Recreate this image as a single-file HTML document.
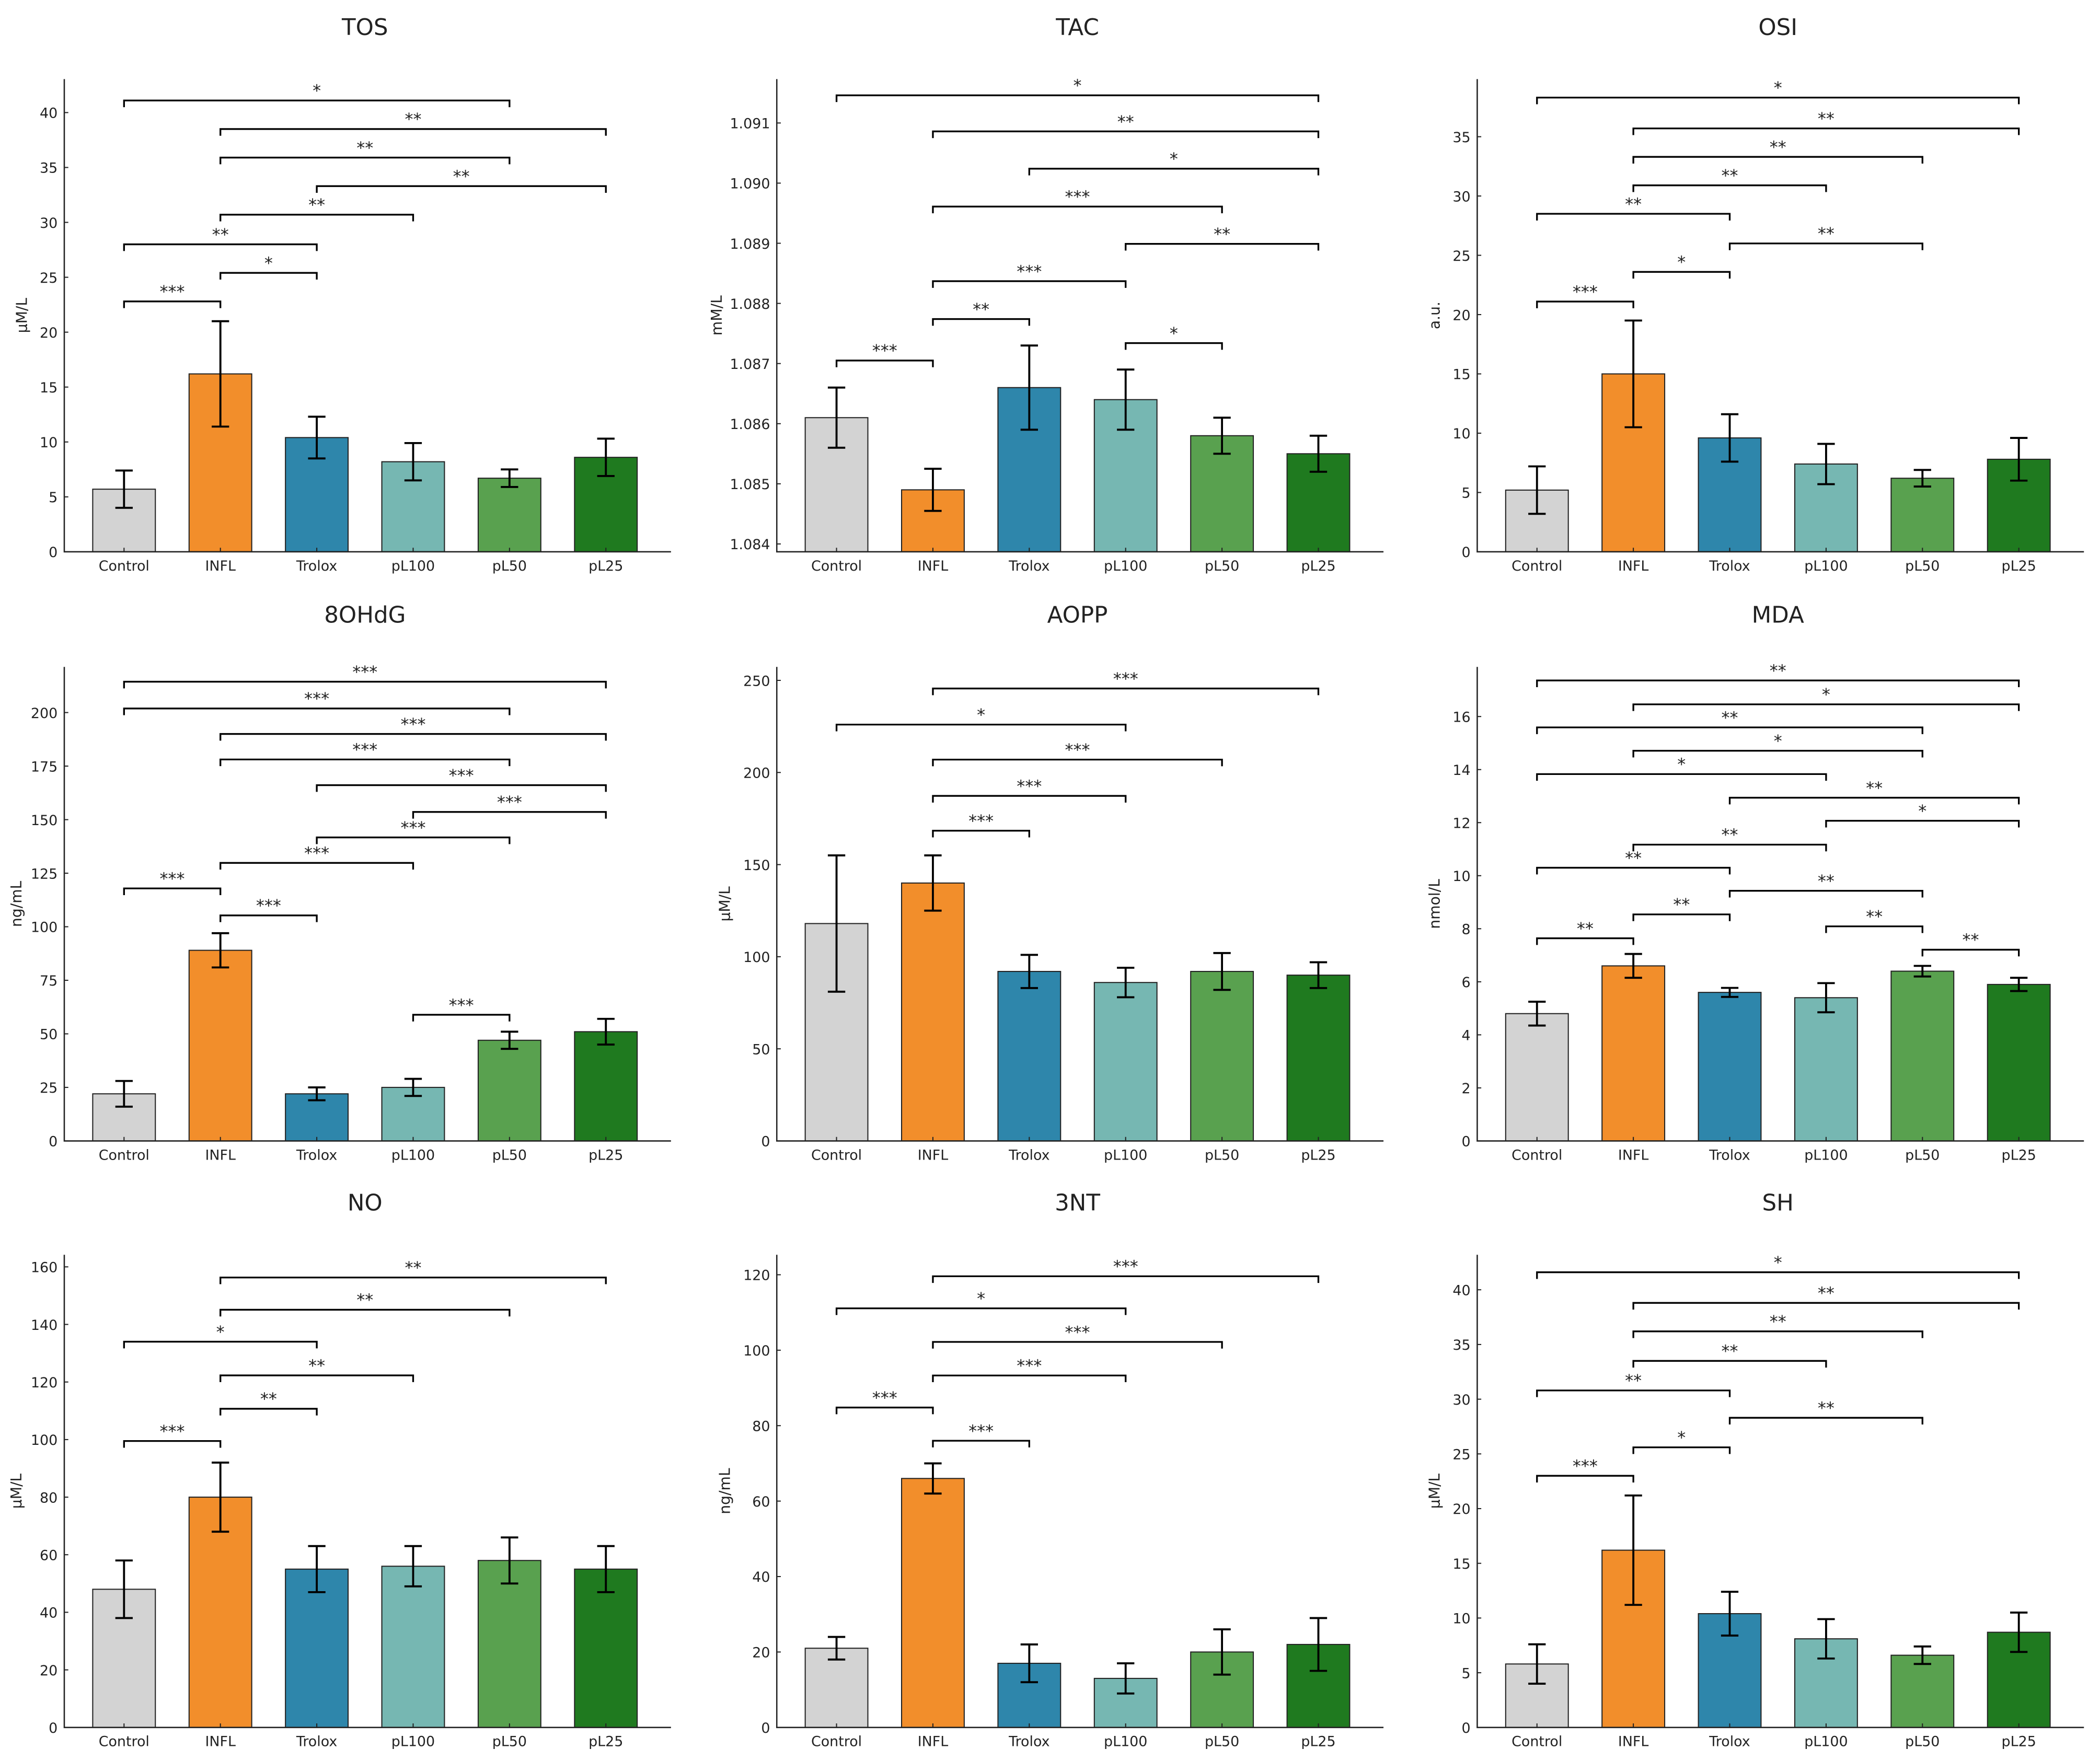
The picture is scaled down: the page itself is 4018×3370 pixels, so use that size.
<!DOCTYPE html>
<html><head><meta charset="utf-8"><style>
html,body{margin:0;padding:0;background:#fff}
svg{display:block}
text{font-family:"DejaVu Sans","Liberation Sans",sans-serif;fill:#222}
</style></head><body>
<svg id="fig" width="4018" height="3370" viewBox="0 0 1568 1315" xmlns="http://www.w3.org/2000/svg"></svg>
<script>
const categories = ["Control","INFL","Trolox","pL100","pL50","pL25"];
const colors = ["#d3d3d3","#f28e2b","#2e86ab","#76b7b2","#59a14f","#1f7a1f"];

const tosMeans=[5.7,16.2,10.4,8.2,6.7,8.6], tosErr=[1.7,4.8,1.9,1.7,0.8,1.7];
const tosTicks=[0,5,10,15,20,25,30,35,40];
const tosBrackets=[[0,1,22.8,"***"],[1,2,25.4,"*"],[0,2,28,"**"],[1,3,30.7,"**"],[2,5,33.3,"**"],[1,4,35.9,"**"],[1,5,38.5,"**"],[0,4,41.1,"*"]];

const tacMeans=[1.0861,1.0849,1.0866,1.0864,1.0858,1.0855], tacErr=[0.0005,0.00035,0.0007,0.0005,0.0003,0.0003];
const tacTicks=[1.084,1.085,1.086,1.087,1.088,1.089,1.090,1.091];
const tacTickLabels=["1.084","1.085","1.086","1.087","1.088","1.089","1.090","1.091"];
const tacBrackets=[[0,1,1.08705,"***"],[1,2,1.08774,"**"],[1,3,1.08837,"***"],[3,4,1.08734,"*"],[3,5,1.08899,"**"],[1,4,1.08961,"***"],[2,5,1.09024,"*"],[1,5,1.09086,"**"],[0,5,1.09146,"*"]];

const osiMeans=[5.2,15.0,9.6,7.4,6.2,7.8], osiErr=[2.0,4.5,2.0,1.7,0.7,1.8];
const osiTicks=[0,5,10,15,20,25,30,35];
const osiBrackets=[[0,1,21.1,"***"],[1,2,23.6,"*"],[2,4,26.0,"**"],[0,2,28.5,"**"],[1,3,30.9,"**"],[1,4,33.3,"**"],[1,5,35.7,"**"],[0,5,38.3,"*"]];

const ohdgMeans=[22,89,22,25,47,51], ohdgErr=[6,8,3,4,4,6];
const ohdgTicks=[0,25,50,75,100,125,150,175,200];
const ohdgBrackets=[[0,1,117.9,"***"],[1,2,105.3,"***"],[3,4,58.9,"***"],[1,3,129.8,"***"],[2,4,141.7,"***"],[3,5,153.6,"***"],[2,5,166.1,"***"],[1,4,178.1,"***"],[1,5,190,"***"],[0,4,201.9,"***"],[0,5,214.4,"***"]];

const aoppMeans=[118,140,92,86,92,90], aoppErr=[37,15,9,8,10,7];
const aoppTicks=[0,50,100,150,200,250];
const aoppBrackets=[[1,2,168.4,"***"],[1,3,187.3,"***"],[1,4,207,"***"],[0,3,226,"*"],[1,5,245.6,"***"]];

const mdaMeans=[4.8,6.6,5.6,5.4,6.4,5.9], mdaErr=[0.45,0.45,0.17,0.55,0.2,0.25];
const mdaTicks=[0,2,4,6,8,10,12,14,16];
const mdaBrackets=[[0,1,7.64,"**"],[1,2,8.54,"**"],[3,4,8.09,"**"],[4,5,7.21,"**"],[2,4,9.43,"**"],[0,2,10.3,"**"],[1,3,11.17,"**"],[3,5,12.07,"*"],[2,5,12.94,"**"],[0,3,13.83,"*"],[1,4,14.71,"*"],[0,4,15.59,"**"],[1,5,16.46,"*"],[0,5,17.36,"**"]];

const noMeans=[48,80,55,56,58,55], noErr=[10,12,8,7,8,8];
const noTicks=[0,20,40,60,80,100,120,140,160];
const noBrackets=[[0,1,99.5,"***"],[1,2,110.7,"**"],[1,3,122.3,"**"],[0,2,134,"*"],[1,4,145.1,"**"],[1,5,156.3,"**"]];

const ntMeans=[21,66,17,13,20,22], ntErr=[3,4,5,4,6,7];
const ntTicks=[0,20,40,60,80,100,120];
const ntBrackets=[[0,1,84.8,"***"],[1,2,76,"***"],[1,3,93.3,"***"],[1,4,102.2,"***"],[0,3,111.1,"*"],[1,5,119.6,"***"]];

const shMeans=[5.8,16.2,10.4,8.1,6.6,8.7], shErr=[1.8,5.0,2.0,1.8,0.8,1.8];
const shTicks=[0,5,10,15,20,25,30,35,40];
const shBrackets=[[0,1,23,"***"],[1,2,25.6,"*"],[2,4,28.3,"**"],[0,2,30.8,"**"],[1,3,33.5,"**"],[1,4,36.2,"**"],[1,5,38.8,"**"],[0,5,41.6,"*"]];

const NS="http://www.w3.org/2000/svg";
const svg=document.getElementById("fig");
function mk(tag,attrs,parent){const e=document.createElementNS(NS,tag);for(const k in attrs)e.setAttribute(k,attrs[k]);(parent||svg).appendChild(e);return e;}

const colL=[48,580,1103], colW=449;
const rowTop=[59,498,937], rowBot=[412,852,1290];

function panel(key,title,ylabel,col,row,ymin,ymax,means,errs,ticks,tickLabels,brackets,ylOff){
  const g=mk("g",{});
  
  
  const L=colL[col], R=L+colW, T=rowTop[row], B=rowBot[row];
  const unit=colW/6.24;
  const xs=i=>L+(i+0.62)*unit;
  const ys=v=>B-(v-ymin)/(ymax-ymin)*(B-T);
  const t=mk("text",{x:(L+R)/2,y:T-33,"text-anchor":"middle","font-size":17},g);
  
  
  t.textContent=title;
  const yl=mk("text",{x:0,y:0,"text-anchor":"middle","font-size":11,transform:`translate(${L-ylOff},${(T+B)/2}) rotate(-90)`},g);
  
  
  yl.textContent=ylabel;
  means.forEach((m,i)=>{
    const bw=unit*0.65;
    const r=mk("rect",{x:xs(i)-bw/2,y:ys(m),width:bw,height:ys(ymin)-ys(m),fill:colors[i],stroke:"#222","stroke-width":0.8},g);
    
    
    const e=errs[i];
    const eb=mk("path",{d:`M${xs(i)},${ys(m+e)}V${ys(m-e)}M${xs(i)-6.5},${ys(m+e)}h13M${xs(i)-6.5},${ys(m-e)}h13`,stroke:"#000","stroke-width":1.5,fill:"none"},g);
    
    
    const xl=mk("text",{x:xs(i),y:B+14,"text-anchor":"middle","font-size":10.5},g);
    
    
    xl.textContent=categories[i];
    mk("line",{x1:xs(i),x2:xs(i),y1:B,y2:B-3,stroke:"#222","stroke-width":0.8},g);
  });
  const ax=mk("path",{d:`M${L},${T}V${B}H${R+4}`,stroke:"#222","stroke-width":1,fill:"none"},g);
  
  
  ticks.forEach((v,k)=>{
    const y=ys(v);
    mk("line",{x1:L,x2:L+3,y1:y,y2:y,stroke:"#222","stroke-width":0.8},g);
    const tl=mk("text",{x:L-5,y:y+4,"text-anchor":"end","font-size":10.5},g);
    
    
    tl.textContent=tickLabels?tickLabels[k]:String(v);
  });
  brackets.forEach(b=>{
    const x1=xs(b[0]),x2=xs(b[1]),y=ys(b[2]);
    const p=mk("path",{d:`M${x1},${y+5}V${y}H${x2}V${y+5}`,stroke:"#000","stroke-width":1.3,fill:"none"},g);
    
    
    const s=mk("text",{x:(x1+x2)/2,y:y-3,"text-anchor":"middle","font-size":12.5},g);
    
    
    s.textContent=b[3];
  });
}
panel("tos","TOS","µM/L",0,0,0,43.05,tosMeans,tosErr,tosTicks,null,tosBrackets,28);
panel("tac","TAC","mM/L",1,0,1.08387,1.09173,tacMeans,tacErr,tacTicks,tacTickLabels,tacBrackets,41);
panel("osi","OSI","a.u.",2,0,0,39.86,osiMeans,osiErr,osiTicks,null,osiBrackets,28);
panel("ohdg","8OHdG","ng/mL",0,1,0,221.3,ohdgMeans,ohdgErr,ohdgTicks,null,ohdgBrackets,32);
panel("aopp","AOPP","µM/L",1,1,0,257.3,aoppMeans,aoppErr,aoppTicks,null,aoppBrackets,35);
panel("mda","MDA","nmol/L",2,1,0,17.87,mdaMeans,mdaErr,mdaTicks,null,mdaBrackets,28);
panel("no","NO","µM/L",0,2,0,164.2,noMeans,noErr,noTicks,null,noBrackets,32);
panel("nt","3NT","ng/mL",1,2,0,125.3,ntMeans,ntErr,ntTicks,null,ntBrackets,35);
panel("sh","SH","µM/L",2,2,0,43.2,shMeans,shErr,shTicks,null,shBrackets,28);
</script>
</body></html>
